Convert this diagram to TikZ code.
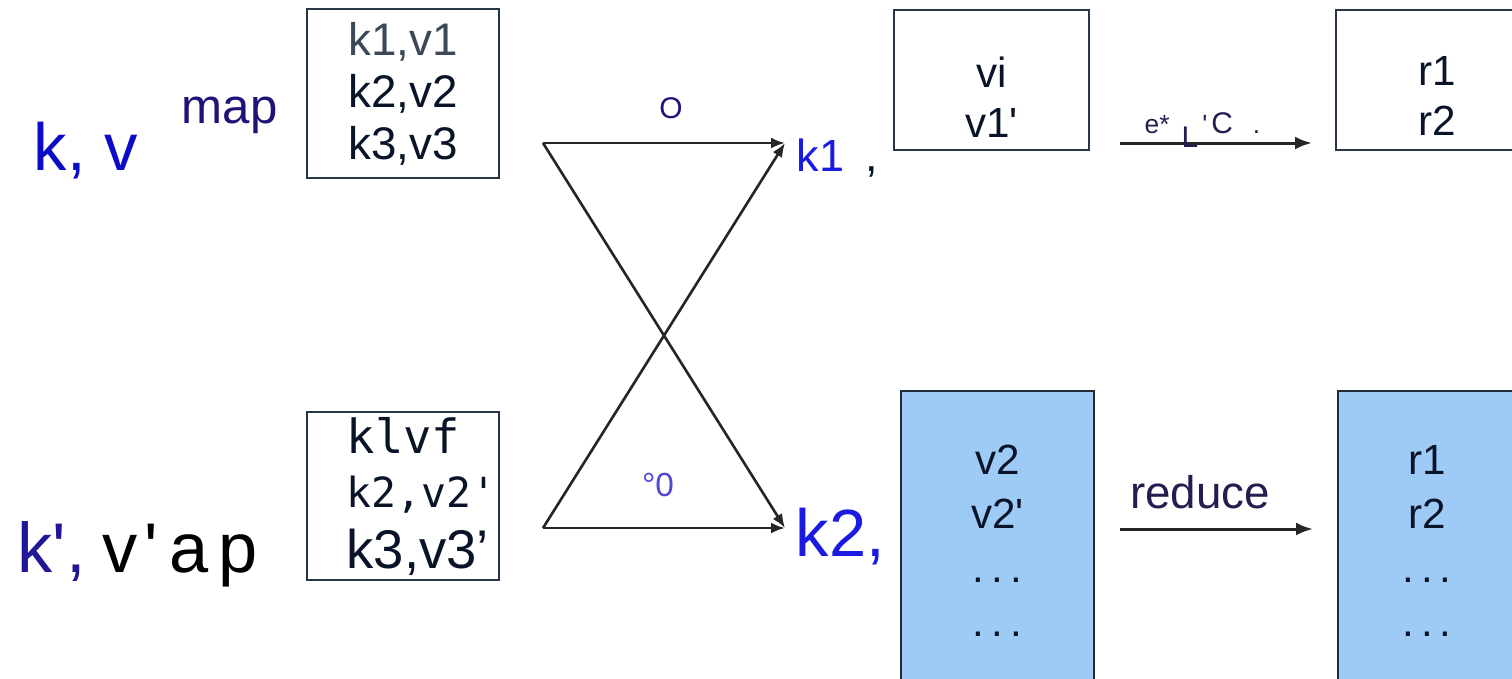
\documentclass[tikz,border=0pt]{standalone}
\usepackage{fontspec}
\setmainfont{Liberation Sans}
\setmonofont{DejaVu Sans Mono}
\usetikzlibrary{arrows.meta, positioning, calc}
\definecolor{kvBlue}{RGB}{12, 12, 200}
\definecolor{keyBlue}{RGB}{26, 26, 226}
\definecolor{mapNavy}{RGB}{30, 20, 120}
\definecolor{primeNavy}{RGB}{32, 22, 150}
\definecolor{zeroPurple}{RGB}{82, 70, 212}
\definecolor{labelNavy}{RGB}{36, 30, 80}
\definecolor{boxText}{RGB}{10, 20, 40}
\definecolor{firstLine}{RGB}{58, 72, 88}
\definecolor{boxEdge}{RGB}{40, 55, 72}
\definecolor{cellBlue}{RGB}{158, 202, 246}
\newcommand{\celldots}{.\kern2pt.\kern2pt.}

\begin{document}
\begin{tikzpicture}[
    x=0.01cm, y=-0.01cm,
    kv_box/.style={
        rectangle,
        draw=boxEdge,
        line width=0.6pt,
        minimum width=1.92cm,
        minimum height=1.69cm,
        align=center,
        inner sep=0pt,
        text=boxText
    },
    out_box/.style={
        rectangle,
        draw=boxEdge,
        line width=0.6pt,
        minimum width=1.95cm,
        minimum height=1.40cm,
        align=center,
        inner sep=0pt,
        text=boxText,
        font=\fontsize{12}{14.2}\selectfont
    },
    cell_box/.style={
        rectangle,
        draw=boxEdge!80!black,
        line width=0.7pt,
        fill=cellBlue,
        minimum width=1.93cm,
        minimum height=3cm,
        align=center,
        inner sep=0pt,
        text=boxText,
        font=\fontsize{12}{15.4}\selectfont
    },
    key_label/.style={
        anchor=base west,
        inner sep=0pt,
        text=keyBlue
    },
    edge_label/.style={
        inner sep=0pt,
        text=labelNavy
    },
    shuffle/.style={
        -{Latex[length=0.14cm, width=0.11cm]},
        line width=0.75pt,
        draw=black!85
    },
    reduce_arrow/.style={
        -{Latex[length=0.17cm, width=0.13cm]},
        line width=0.85pt,
        draw=black!85
    }
]
    \useasboundingbox (0,0) rectangle (1512,678);
    \clip (0,0) rectangle (1512,678);

    % Input pairs
    \node[anchor=base west, inner sep=0pt, text=kvBlue,
          font=\fontsize{19}{22}\selectfont] (kv1) at (33,170) {k, v};
    \node[anchor=base west, inner sep=0pt, text=mapNavy,
          font=\fontsize{14}{17}\selectfont] (map) at (181,123) {map};
    \node[anchor=base west, inner sep=0pt,
          font=\fontsize{20}{24}\selectfont] (kv2) at (17,572) {
        \textcolor{primeNavy}{k\textquotesingle,}\kern0.17cm v\kern0.065cm\textquotesingle\kern0.12cm a\kern0.095cm p
    };

    % Map output
    \node[kv_box, font=\fontsize{13}{14.8}\selectfont] (pairs1) at (403,93.5) {
        \textcolor{firstLine}{k1,v1}\\
        k2,v2\\
        k3,v3
    };
    \node[kv_box, minimum height=1.68cm] (pairs2) at (403,496) {};
    \node[anchor=north west, inner sep=0pt, align=left, text=boxText,
          font=\fontsize{13}{15.4}\selectfont] (pairs2text) at (346,417) {
        {\ttfamily\fontsize{13.4}{15.4}\selectfont klvf}\\
        {\ttfamily\fontsize{11.8}{15.4}\selectfont k2,v2\textquotesingle}\\[0.06cm]
        {\fontsize{15.5}{18}\selectfont k3,v3’}
    };

    % Shuffle
    \coordinate (src1) at (543,143);
    \coordinate (src2) at (543,528);
    \coordinate (dst1) at (785,143);
    \coordinate (dst2) at (785,528);
    \draw[shuffle] (src1) -- (dst1);
    \draw[shuffle] (src1) -- (dst2);
    \draw[shuffle] (src2) -- (dst1);
    \draw[shuffle] (src2) -- (dst2);
    \node[inner sep=0pt, text=mapNavy, font=\fontsize{8.5}{10}\selectfont] (olabel) at (671,108) {O};
    \node[inner sep=0pt, text=zeroPurple, font=\fontsize{9.5}{11}\selectfont] (zlabel) at (658,485) {°0};

    % Grouped keys
    \node[key_label, font=\fontsize{12.8}{15}\selectfont] (key1) at (796,171) {
        k1\hspace{0.21cm}\textcolor{boxText}{,}
    };
    \node[key_label, font=\fontsize{19}{22}\selectfont] (key2) at (795,556) {k2,};

    % Reduce layer
    \node[out_box] (vals1) at (991.5,80) {};
    \node[out_box, draw=none, minimum height=0pt] (vals1text) at ([yshift=-0.17cm]vals1.center) {
        vi\\
        v1\textquotesingle
    };
    \node[out_box, minimum width=2.02cm] (res1) at (1437,80) {};
    \node[out_box, draw=none, minimum height=0pt, minimum width=0pt] (res1text) at ([yshift=-0.16cm]res1.center) {
        r1\\
        r2
    };
    \node[cell_box] (vals2) at (997.5,541) {
        v2\\
        v2\textquotesingle\\
        \celldots\\
        \celldots
    };
    \node[cell_box, minimum width=1.78cm] (res2) at (1427,541) {
        r1\\
        r2\\
        \celldots\\
        \celldots
    };

    % Reduce arrows
    \coordinate (red1a) at (1120,143);
    \coordinate (red1b) at (1312,143);
    \coordinate (red2a) at (1120,529);
    \coordinate (red2b) at (1313,529);
    \draw[reduce_arrow] (red1a) -- (red1b);
    \draw[reduce_arrow] (red2a) -- (red2b);
    \node[edge_label, anchor=base west, font=\fontsize{7.5}{9}\selectfont] (elabel) at (1144,133) {
        e*\hspace{0.12cm}\raisebox{-0.14cm}{\fontsize{8.5}{10}\selectfont L}\hspace{0.04cm}\textquotesingle\hspace{0.04cm}{\fontsize{8.5}{10}\selectfont C}\hspace{0.2cm}.
    };
    \node[edge_label, font=\fontsize{13}{15}\selectfont] (reduce) at (1200,492) {reduce};
\end{tikzpicture}
\end{document}
